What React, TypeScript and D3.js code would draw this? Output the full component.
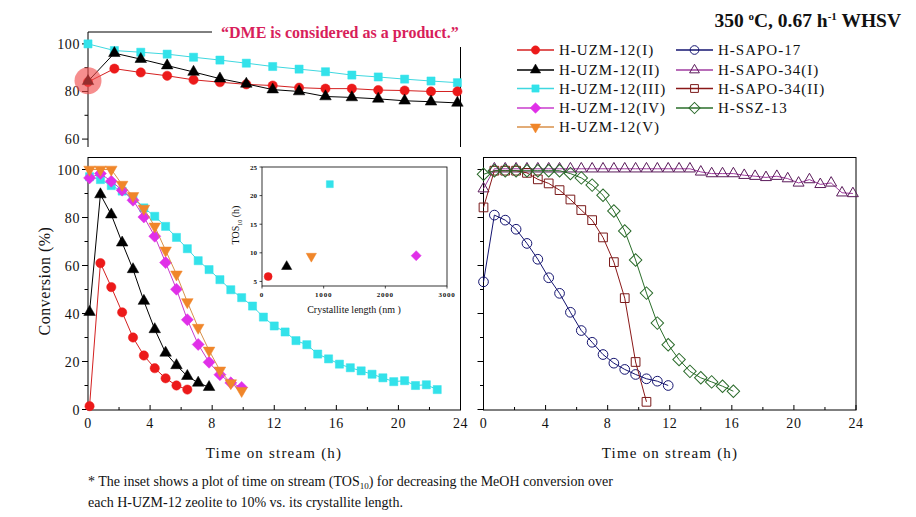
import React from "react";
import * as d3 from "d3";

// ---------- data ----------
const topTimes = [0, 1.7, 3.4, 5.1, 6.8, 8.5, 10.2, 11.9, 13.6, 15.3, 17.0, 18.7, 20.4, 22.1, 23.8];
const topUzmI = [84, 89.6, 88, 86.6, 84.9, 83.9, 83, 82.5, 81.6, 81.2, 81.2, 80.6, 80.4, 80, 80];
const topUzmII = [84.3, 96.1, 93.6, 90.9, 88.2, 85.4, 83.2, 80.8, 80, 77.9, 77.5, 76.9, 76.1, 75.7, 75.2];
const topUzmIII = [100, 97.2, 96.5, 95.7, 94.4, 93.2, 91.9, 90.5, 89.4, 88.3, 86.9, 86.1, 85.2, 84.4, 83.7];

const leftTimes = [0.1, 0.8, 1.5, 2.2, 2.9, 3.6, 4.3, 5.0, 5.7, 6.4, 7.1, 7.8, 8.5, 9.2, 9.9, 10.6, 11.3, 12.0, 12.7, 13.4, 14.1, 14.8, 15.5, 16.2, 16.9, 17.6, 18.3, 19.0, 19.7, 20.4, 21.1, 21.8, 22.5];
const uzmI = [1.4, 61, 51, 40.5, 30, 22.5, 17.2, 13, 10, 8.3];
const uzmII = [40.6, 89.6, 81.2, 69.5, 58.4, 45.2, 33.4, 23.6, 18.4, 13.9, 11.1, 9.3];
const uzmIII = [97, 95.8, 93.3, 91, 88, 84, 80.5, 76.3, 71.7, 67, 62, 58.3, 54.1, 49.9, 46.6, 43.1, 38.5, 34.8, 32.3, 28.7, 27, 23.1, 21.1, 18.9, 17.4, 16.1, 14.7, 13.2, 11.6, 12, 10, 10.3, 8.3];
const uzmIV = [96.5, 98.3, 95.1, 91.4, 87.2, 80.2, 72.2, 61.2, 50.1, 37.4, 27.1, 19.7, 14.5, 11.1, 9.2];
const uzmV = [100, 100, 100, 93.7, 89, 83.7, 76.3, 66.3, 56.3, 44.8, 34.1, 24.6, 16.3, 11, 7.8];

const rightTimes = [0, 0.7, 1.4, 2.1, 2.8, 3.5, 4.2, 4.9, 5.6, 6.3, 7.0, 7.7, 8.4, 9.1, 9.8, 10.5, 11.2, 11.9, 12.6, 13.3, 14.0, 14.7, 15.4, 16.1, 16.8, 17.5, 18.2, 18.9, 19.6, 20.3, 21.0, 21.7, 22.4, 23.1, 23.8];
const sapo17 = [53.2, 81, 78.9, 75.1, 69.2, 62.6, 54.9, 48.4, 40.5, 32.9, 28, 22.9, 19.3, 16.7, 14.6, 12.8, 11.8, 10];
const sapo34I = [92, 100.3, 100.3, 100.3, 100.3, 100.3, 100.3, 100.3, 100.3, 100.3, 100.3, 100.3, 100.3, 100.3, 100.3, 100.3, 100.3, 100.3, 100.3, 100.3, 99, 98.3, 98.3, 98.3, 97.6, 97.2, 96.7, 97.2, 96.2, 94.4, 95.8, 93.8, 94.4, 90.3, 90];
const sapo34II = [84.2, 99.5, 99.5, 99.5, 98.6, 95.9, 94.2, 91.4, 87.5, 83.1, 78.9, 71.7, 61.4, 46.4, 19.8, 3.2];
const ssz13 = [98, 99.5, 99.5, 99.5, 99.5, 99.5, 99.5, 99.5, 98.3, 96.5, 93.5, 89.3, 82.7, 74.4, 62.3, 48.5, 36, 27, 20.8, 15.9, 13.2, 11.5, 9.7, 7.6];

const insetLength = [100, 400, 800, 1100, 2500];
const insetTOS = [5.85, 7.6, 9.4, 22, 9.5];

const xTicks = [0, 4, 8, 12, 16, 20, 24];
const xMinor = [2, 6, 10, 14, 18, 22];
const yTicksMain = [0, 20, 40, 60, 80, 100];
const yMinorMain = [10, 30, 50, 70, 90];
const yTicksTop = [60, 80, 100];
const yMinorTop = [70, 90];
const insetXTicks = [0, 1000, 2000, 3000];
const insetYTicks = [5, 10, 15, 20, 25];

const legendLeft = ["H-UZM-12(I)", "H-UZM-12(II)", "H-UZM-12(III)", "H-UZM-12(IV)", "H-UZM-12(V)"];
const legendRight = ["H-SAPO-17", "H-SAPO-34(I)", "H-SAPO-34(II)", "H-SSZ-13"];

// ---------- styles ----------
type Sty = { line: string; fill: string; stroke: string; shape: string; size: number; open?: boolean };
const sI: Sty = { line: "#d42020", fill: "#ec1a1a", stroke: "#ec1a1a", shape: "circle", size: 68 };
const sII: Sty = { line: "#000000", fill: "#000000", stroke: "#000000", shape: "tri", size: 58 };
const sIII: Sty = { line: "#3fd8e0", fill: "#33e2ea", stroke: "#33e2ea", shape: "square", size: 66 };
const sIV: Sty = { line: "#c83ccc", fill: "#e030e8", stroke: "#e030e8", shape: "diamond", size: 72 };
const sV: Sty = { line: "#d8904a", fill: "#f0862a", stroke: "#f0862a", shape: "dtri", size: 58 };
const s17: Sty = { line: "#141470", fill: "#ffffff", stroke: "#141470", shape: "circle", size: 74, open: true };
const s34I: Sty = { line: "#a03ca0", fill: "#ffffff", stroke: "#5a1a5a", shape: "tri", size: 52, open: true };
const s34II: Sty = { line: "#8a1818", fill: "#ffffff", stroke: "#7a1a1a", shape: "square", size: 76, open: true };
const sSSZ: Sty = { line: "#2a6e2a", fill: "#ffffff", stroke: "#2a6a2a", shape: "diamond", size: 78, open: true };

const SERIF = "'Liberation Serif', 'Times New Roman', serif";

function symPath(shape: string, size: number) {
  const t = shape === "circle" ? d3.symbolCircle : shape === "square" || shape === "diamond" ? d3.symbolSquare : d3.symbolTriangle;
  return d3.symbol().type(t).size(size)() as string;
}
function rot(shape: string) {
  return shape === "diamond" ? 45 : shape === "dtri" ? 180 : 0;
}

function Marker({ x, y, s }: { x: number; y: number; s: Sty }) {
  return (
    <path
      d={symPath(s.shape, s.size)}
      transform={`translate(${x},${y}) rotate(${rot(s.shape)})`}
      fill={s.open ? "none" : s.fill}
      stroke={s.stroke}
      strokeWidth={s.open ? 1 : 0.5}
    />
  );
}

function Series({ xs, ys, s, sx, sy }: { xs: number[]; ys: number[]; s: Sty; sx: any; sy: any }) {
  const pts = ys.map((v, i) => [sx(xs[i]), sy(v)] as [number, number]);
  const line = d3.line()(pts) as string;
  return (
    <g>
      <path d={line} fill="none" stroke={s.line} strokeWidth={1} />
      {pts.map((p, i) => (
        <Marker key={i} x={p[0]} y={p[1]} s={s} />
      ))}
    </g>
  );
}

export default function App() {
  // scales
  const xL = d3.scaleLinear().domain([0, 24]).range([88, 460.5]);
  const xR = d3.scaleLinear().domain([0, 24]).range([483.5, 856]);
  const yTop = d3.scaleLinear().domain([56.8, 105]).range([146.7, 32]);
  const yMain = d3.scaleLinear().domain([0, 105]).range([409.5, 157.5]);
  const xIn = d3.scaleLinear().domain([0, 3000]).range([262, 447]);
  const yIn = d3.scaleLinear().domain([4.2, 25]).range([286, 167]);

  const tickFont = { fontFamily: SERIF, fontSize: 14, letterSpacing: 0.6, fill: "#111" } as any;

  const xAxis = (sx: any) => (
    <g>
      {xTicks.map((t) => (
        <g key={t}>
          <line x1={sx(t)} x2={sx(t)} y1={410} y2={405} stroke="#000" />
          <text x={sx(t)} y={428} textAnchor="middle" {...tickFont}>{t}</text>
        </g>
      ))}
      {xMinor.map((t) => (
        <line key={t} x1={sx(t)} x2={sx(t)} y1={410} y2={407} stroke="#000" />
      ))}
    </g>
  );

  const yAxisTicks = (x0: number, sy: any, major: number[], minor: number[], labels: boolean) => (
    <g>
      {major.map((v) => (
        <g key={v}>
          <line x1={x0 - 6} x2={x0} y1={sy(v)} y2={sy(v)} stroke="#000" />
          {labels && (
            <text x={x0 - 8} y={sy(v) + 5} textAnchor="end" {...tickFont}>{v}</text>
          )}
        </g>
      ))}
      {minor.map((v) => (
        <line key={v} x1={x0 - 3.5} x2={x0} y1={sy(v)} y2={sy(v)} stroke="#000" />
      ))}
    </g>
  );

  const legendRow = (x: number, y: number, s: Sty, label: string) => (
    <g key={label}>
      <line x1={x} x2={x + 37} y1={y} y2={y} stroke={s.line} strokeWidth={1.6} />
      <Marker x={x + 18.5} y={y} s={{ ...s, size: s.size * 0.8 }} />
      <text x={x + 42} y={y + 5} fontFamily={SERIF} fontSize={15} letterSpacing={1.0} fill="#111">{label}</text>
    </g>
  );

  return (
    <svg width={916} height={517} style={{ display: "block", position: "absolute", left: 0, top: 0, background: "#fff" }}>
      <rect width={916} height={517} fill="#fff" />

      {/* ---- top panel ---- */}
      <line x1={88} x2={88} y1={32} y2={147} stroke="#000" />
      <line x1={88} x2={212} y1={32} y2={32} stroke="#000" />
      <line x1={460.5} x2={460.5} y1={47} y2={147} stroke="#000" />
      {yAxisTicks(88, yTop, yTicksTop, yMinorTop, true)}
      <Series xs={topTimes} ys={topUzmIII} s={sIII} sx={xL} sy={yTop} />
      <Series xs={topTimes} ys={topUzmI} s={sI} sx={xL} sy={yTop} />
      <Series xs={topTimes} ys={topUzmII} s={sII} sx={xL} sy={yTop} />
      <circle cx={88} cy={yTop(84.5)} r={13.5} fill="#f04848" opacity={0.62} />
      <text x={221} y={38} fontFamily={SERIF} fontSize={16} fontWeight="bold" fill="#d81e5b">“DME is considered as a product.”</text>

      {/* title */}
      <text x={901} y={26.5} textAnchor="end" fontFamily={SERIF} fontSize={19.5} fontWeight="bold" fill="#111">
        350 <tspan dy={-7} fontSize={11}>o</tspan>
        <tspan dy={7}>C, 0.67 h</tspan>
        <tspan dy={-7} fontSize={11}>-1</tspan>
        <tspan dy={7}> WHSV</tspan>
      </text>

      {/* legend */}
      {[sI, sII, sIII, sIV, sV].map((s, i) => legendRow(517, [50, 70, 88.5, 108, 127][i], s, legendLeft[i]))}
      {[s17, s34I, s34II, sSSZ].map((s, i) => legendRow(676, [50, 70, 88.5, 108][i], s, legendRight[i]))}

      {/* ---- bottom-left panel ---- */}
      <rect x={88} y={157.5} width={372.5} height={252.5} fill="none" stroke="#000" />
      {yAxisTicks(88, yMain, yTicksMain, yMinorMain, true)}
      {xAxis(xL)}
      <Series xs={leftTimes} ys={uzmI} s={sI} sx={xL} sy={yMain} />
      <Series xs={leftTimes} ys={uzmII} s={sII} sx={xL} sy={yMain} />
      <Series xs={leftTimes} ys={uzmIII} s={sIII} sx={xL} sy={yMain} />
      <Series xs={leftTimes} ys={uzmIV} s={sIV} sx={xL} sy={yMain} />
      <Series xs={leftTimes} ys={uzmV} s={sV} sx={xL} sy={yMain} />

      {/* inset */}
      <rect x={262} y={167} width={185} height={119} fill="#fff" stroke="#000" strokeWidth={0.8} />
      {insetYTicks.map((v) => (
        <g key={v}>
          <line x1={259.5} x2={262} y1={yIn(v)} y2={yIn(v)} stroke="#000" strokeWidth={0.7} />
          <text x={257} y={yIn(v) + 2.5} textAnchor="end" fontFamily={SERIF} fontSize={7} fontWeight="bold" fill="#111">{v}</text>
        </g>
      ))}
      {insetXTicks.map((v) => (
        <g key={v}>
          <line x1={xIn(v)} x2={xIn(v)} y1={286} y2={288.5} stroke="#000" strokeWidth={0.7} />
          <text x={xIn(v)} y={297} textAnchor="middle" fontFamily={SERIF} fontSize={7} fontWeight="bold" letterSpacing={0.8} fill="#111">{v}</text>
        </g>
      ))}
      <text x={354} y={313} textAnchor="middle" fontFamily={SERIF} fontSize={10} fill="#111">Crystallite length (nm )</text>
      <text transform="translate(239,225) rotate(-90)" textAnchor="middle" fontFamily={SERIF} fontSize={10} fill="#111">
        TOS<tspan dy={3} fontSize={6}>10</tspan><tspan dy={-3}> (h)</tspan>
      </text>
      <Marker x={xIn(insetLength[0])} y={yIn(insetTOS[0])} s={{ ...sI, size: 50 }} />
      <Marker x={xIn(insetLength[1])} y={yIn(insetTOS[1])} s={{ ...sII, size: 45 }} />
      <Marker x={xIn(insetLength[2])} y={yIn(insetTOS[2])} s={{ ...sV, size: 45 }} />
      <Marker x={xIn(insetLength[3])} y={yIn(insetTOS[3])} s={{ ...sIII, size: 48 }} />
      <Marker x={xIn(insetLength[4])} y={yIn(insetTOS[4])} s={{ ...sIV, size: 50 }} />

      {/* axis labels */}
      <text transform="translate(50,281) rotate(-90)" textAnchor="middle" fontFamily={SERIF} fontSize={16} letterSpacing={0.5} fill="#111">Conversion (%)</text>
      <text x={274} y={458} textAnchor="middle" fontFamily={SERIF} fontSize={15} letterSpacing={1.2} fill="#111">Time on stream (h)</text>

      {/* ---- right panel ---- */}
      <rect x={483.5} y={157.5} width={372.5} height={252.5} fill="none" stroke="#000" />
      {yAxisTicks(483.5, yMain, yTicksMain, yMinorMain, false)}
      {xAxis(xR)}
      <Series xs={rightTimes} ys={sapo34I} s={s34I} sx={xR} sy={yMain} />
      <Series xs={rightTimes} ys={sapo17} s={s17} sx={xR} sy={yMain} />
      <Series xs={rightTimes} ys={sapo34II} s={s34II} sx={xR} sy={yMain} />
      <Series xs={rightTimes} ys={ssz13} s={sSSZ} sx={xR} sy={yMain} />
      <text x={670} y={458} textAnchor="middle" fontFamily={SERIF} fontSize={15} letterSpacing={1.2} fill="#111">Time on stream (h)</text>

      {/* footnote */}
      <text x={88} y={486} fontFamily={SERIF} fontSize={14} fill="#111">
        * The inset shows a plot of time on stream (TOS<tspan dy={3} fontSize={9}>10</tspan>
        <tspan dy={-3}>) for decreasing the MeOH conversion over</tspan>
      </text>
      <text x={88} y={507} fontFamily={SERIF} fontSize={14} fill="#111">each H-UZM-12 zeolite to 10% vs. its crystallite length.</text>
    </svg>
  );
}
